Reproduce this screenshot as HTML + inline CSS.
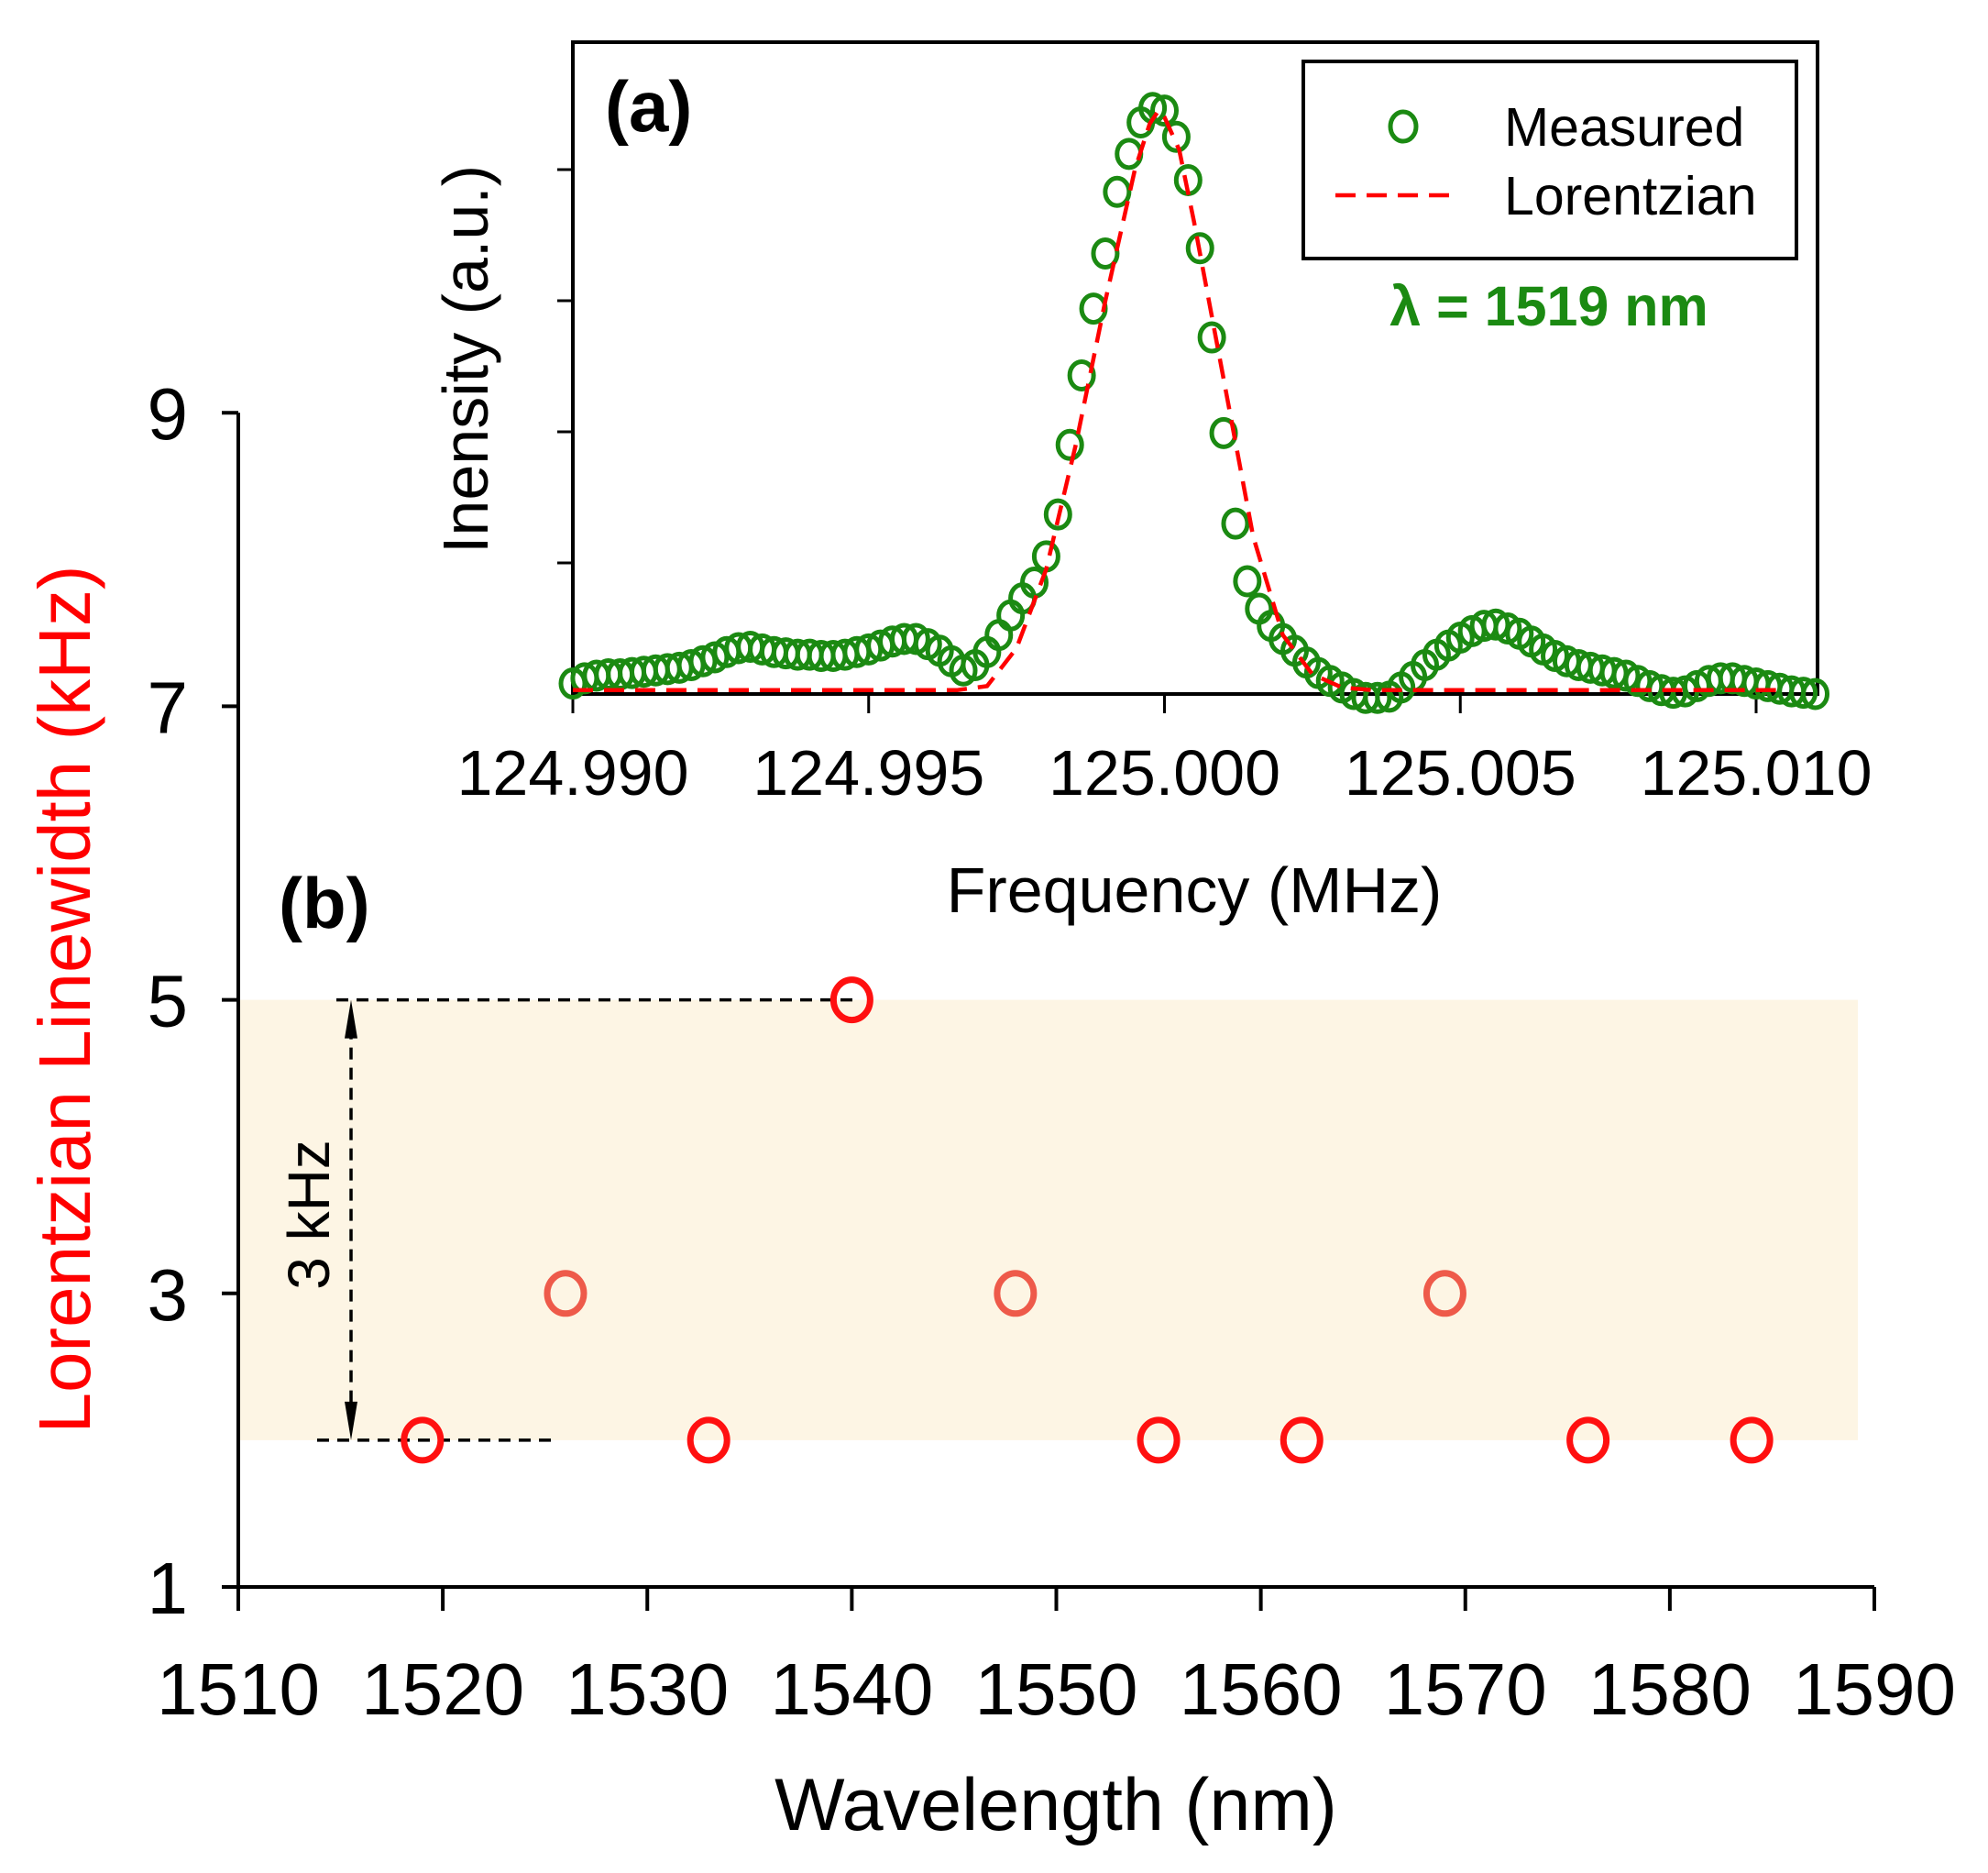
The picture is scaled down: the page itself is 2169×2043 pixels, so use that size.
<!DOCTYPE html>
<html><head><meta charset="utf-8"><style>
html,body{margin:0;padding:0;background:#fff}
svg{display:block;font-family:"Liberation Sans",Arial,sans-serif}
</style></head><body>
<svg id="chart" width="2169" height="2043" viewBox="0 0 2169 2043" xmlns="http://www.w3.org/2000/svg">
<g id="main"></g>
<g id="inset"></g>
</svg>
<script>
// ---- main chart data ----
const wavelengths = [1519,1526,1533,1540,1548,1555,1562,1569,1576,1584];
const linewidths = [2,3,2,5,3,2,2,3,2,2];
const xTicks = [1510,1520,1530,1540,1550,1560,1570,1580,1590];
const yTicks = [1,3,5,7,9];
const bandRange = [2,5];
// ---- inset data ----
const freqStart = 124.990;
const freqStep = 0.0002;
const measured = [0.08,0.12,0.14,0.15,0.15,0.16,0.17,0.18,0.19,0.2,0.22,0.25,0.28,0.32,0.35,0.36,0.34,0.32,0.31,0.3,0.3,0.29,0.29,0.3,0.32,0.34,0.37,0.4,0.42,0.42,0.38,0.33,0.25,0.18,0.22,0.32,0.45,0.6,0.73,0.85,1.05,1.37,1.9,2.43,2.94,3.36,3.83,4.12,4.36,4.47,4.45,4.25,3.92,3.4,2.72,1.99,1.3,0.86,0.65,0.52,0.42,0.33,0.24,0.16,0.1,0.05,0.0,-0.03,-0.03,-0.02,0.05,0.13,0.22,0.3,0.37,0.43,0.48,0.52,0.53,0.5,0.46,0.4,0.34,0.29,0.25,0.22,0.2,0.18,0.16,0.14,0.1,0.06,0.03,0.01,0.02,0.06,0.1,0.12,0.12,0.1,0.08,0.06,0.04,0.02,0.01,0.0];
const fitFreqs = [124.990,124.995,124.9965,124.997,124.9975,124.998,124.9985,124.999,124.9995,124.99975,124.9999,125.0,125.00025,125.0005,125.001,125.0015,125.002,125.0025,125.003,125.0035,125.0105];
const fitValues = [0.03,0.03,0.03,0.06,0.35,0.95,1.9,3.0,4.0,4.35,4.45,4.4,4.15,3.6,2.4,1.2,0.45,0.15,0.05,0.03,0.03];
const insetXTicks = ["124.990","124.995","125.000","125.005","125.010"];
const insetYTicks = [1,2,3,4];

const NS="http://www.w3.org/2000/svg";
function mk(parent,tag,attrs,text){const e=document.createElementNS(NS,tag);for(const k in attrs)e.setAttribute(k,attrs[k]);if(text!==undefined)e.textContent=text;parent.appendChild(e);return e;}
const X=v=>260+(v-1510)*(2045-260)/80;
const Y=v=>1731-(v-1)*160.1;
const FX=f=>625+(f-124.990)*(1916-625)/0.02;
const FY=v=>757-v*143;

const main=document.getElementById('main');
let band=mk(main,'rect',{x:X(1510),y:Y(bandRange[1]),width:2027-X(1510),height:Y(bandRange[0])-Y(bandRange[1]),fill:'#fdf5e4'});


let ax=mk(main,'line',{x1:X(1510),y1:Y(1),x2:X(1590),y2:Y(1),stroke:'#000','stroke-width':4});


let ay=mk(main,'line',{x1:X(1510),y1:Y(1)+2,x2:X(1510),y2:Y(9),stroke:'#000','stroke-width':4});


xTicks.forEach(t=>{
  let l=mk(main,'line',{x1:X(t),y1:Y(1),x2:X(t),y2:Y(1)+26,stroke:'#000','stroke-width':4});
  
  
  let tx=mk(main,'text',{x:X(t),y:1870,'font-size':80,'text-anchor':'middle'},t);
  
  
});
yTicks.forEach(t=>{
  let l=mk(main,'line',{x1:X(1510)-18,y1:Y(t),x2:X(1510),y2:Y(t),stroke:'#000','stroke-width':4});
  
  
  let tx=mk(main,'text',{x:205,y:Y(t)+29,'font-size':80,'text-anchor':'end'},t);
  
  
});
let xt=mk(main,'text',{x:1152,y:1996,'font-size':81,'text-anchor':'middle'},'Wavelength (nm)');


let yt=mk(main,'text',{x:0,y:0,'font-size':80,'text-anchor':'middle',fill:'#ff0000',transform:'translate(98,1090) rotate(-90)'},'Lorentzian Linewidth (kHz)');


let lb=mk(main,'text',{x:304,y:1012,'font-size':78,'font-weight':'bold'},'(b)');


let d1=mk(main,'line',{x1:367,y1:Y(5),x2:930,y2:Y(5),stroke:'#000','stroke-width':3.5,'stroke-dasharray':'13,9'});


let d2=mk(main,'line',{x1:346,y1:Y(2),x2:609,y2:Y(2),stroke:'#000','stroke-width':3.5,'stroke-dasharray':'13,9'});


let va=mk(main,'line',{x1:383,y1:Y(5)+30,x2:383,y2:Y(2)-30,stroke:'#000','stroke-width':3.5,'stroke-dasharray':'13,9'});


let ah1=mk(main,'path',{d:`M383 ${Y(5)} L376 ${Y(5)+42} L390 ${Y(5)+42} Z`,fill:'#000'});


let ah2=mk(main,'path',{d:`M383 ${Y(2)} L376 ${Y(2)-42} L390 ${Y(2)-42} Z`,fill:'#000'});


let kt=mk(main,'text',{x:0,y:0,'font-size':64,'text-anchor':'middle',transform:'translate(359,1325) rotate(-90)'},'3 kHz');


wavelengths.forEach((w,i)=>{
  const faded = linewidths[i]===3;
  let c=mk(main,'ellipse',{cx:X(w),cy:Y(linewidths[i]),rx:20,ry:22,fill:'none',stroke:faded?'#ee5a4a':'#ff1010','stroke-width':7});
  
  
});

const ins=document.getElementById('inset');
let fr=mk(ins,'rect',{x:625,y:46,width:1358,height:711,fill:'none',stroke:'#000','stroke-width':4});


insetXTicks.forEach(t=>{
  const f=parseFloat(t);
  let l=mk(ins,'line',{x1:FX(f),y1:757,x2:FX(f),y2:778,stroke:'#000','stroke-width':3});
  
  
  let tx=mk(ins,'text',{x:FX(f),y:867,'font-size':70,'text-anchor':'middle'},t);
  
  
});
insetYTicks.forEach(t=>{
  let l=mk(ins,'line',{x1:608,y1:FY(t),x2:625,y2:FY(t),stroke:'#000','stroke-width':3});
  
  
});
let ixt=mk(ins,'text',{x:1303,y:995,'font-size':70,'text-anchor':'middle'},'Frequency (MHz)');


let iyt=mk(ins,'text',{x:0,y:0,'font-size':70,'text-anchor':'middle',transform:'translate(532,392) rotate(-90)'},'Inensity (a.u.)');


let la=mk(ins,'text',{x:660,y:143,'font-size':78,'font-weight':'bold'},'(a)');


measured.forEach((v,i)=>{
  let c=mk(ins,'ellipse',{cx:FX(freqStart+i*freqStep),cy:FY(v),rx:13,ry:15,fill:'none',stroke:'#1b8a12','stroke-width':5});
  
  
});
let pd=fitFreqs.map((f,i)=>(i?'L':'M')+FX(f).toFixed(1)+' '+FY(fitValues[i]).toFixed(1)).join(' ');
let fit=mk(ins,'path',{d:pd,fill:'none',stroke:'#ff0000','stroke-width':4.5,'stroke-dasharray':'22,12'});


let lg=mk(ins,'g',{});


mk(lg,'rect',{x:1422,y:67,width:538,height:215,fill:'#fff',stroke:'#000','stroke-width':4});
let lm=mk(lg,'ellipse',{cx:1531,cy:138,rx:14,ry:16,fill:'none',stroke:'#1b8a12','stroke-width':5});


let lt1=mk(lg,'text',{x:1641,y:159,'font-size':59},'Measured');


let ll=mk(lg,'line',{x1:1457,y1:213,x2:1592,y2:213,stroke:'#ff0000','stroke-width':4.5,'stroke-dasharray':'22,12'});


let lt2=mk(lg,'text',{x:1641,y:234,'font-size':59},'Lorentzian');


let lam=mk(ins,'text',{x:1690,y:355,'font-size':61,'font-weight':'bold',fill:'#1b8a12','text-anchor':'middle'},'λ = 1519 nm');


</script>
</body></html>
